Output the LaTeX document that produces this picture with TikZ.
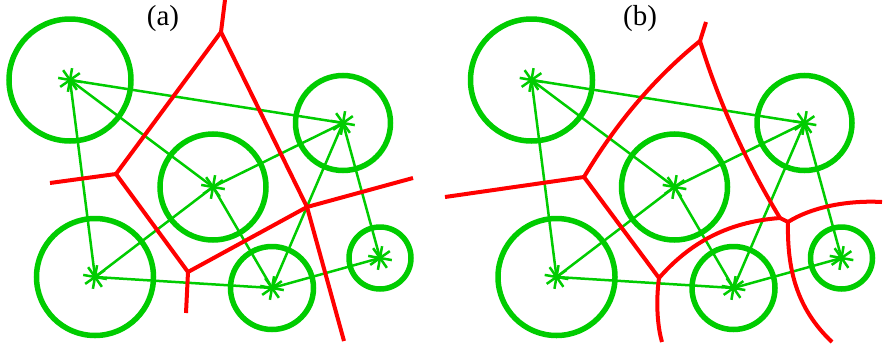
\documentclass[tikz,border=0pt]{standalone}
\usepackage{fontspec}
\setmainfont{Liberation Serif}
\usepackage{tikz}
\usetikzlibrary{positioning}

\definecolor{sitegreen}{RGB}{0,204,0}
\definecolor{vorred}{RGB}{255,0,0}

\tikzset{
    site/.style={circle, draw=sitegreen, line width=5.5pt, minimum size=#1, inner sep=0pt},
    dlink/.style={sitegreen, line width=2.5pt},
    vor/.style={vorred, line width=4pt, line join=round},
    panel/.style={font=\fontsize{29}{34}\selectfont, anchor=base, inner sep=0pt},
    asterisk/.pic={\foreach \a in {10,55,100,145} \draw[dlink] (\a:12) -- (\a+180:12);},
}

% six weighted sites and their triangulation, #1 = name prefix
\newcommand\sitegraph[1]{%
    \node[site=122] (#1A) at (70,80) {};
    \node[site=106] (#1B) at (213,187) {};
    \node[site=95]  (#1C) at (343,123) {};
    \node[site=117] (#1D) at (95,277) {};
    \node[site=83]  (#1E) at (272,288) {};
    \node[site=62]  (#1F) at (380,258) {};
    \foreach \s in {A,B,C,D,E,F} \pic at (#1\s) {asterisk};
    \foreach \u/\v in {A/B,A/C,A/D,B/C,B/D,B/E,C/E,C/F,D/E,E/F}
        \draw[dlink] (#1\u.center) -- (#1\v.center);
}

\begin{document}
\begin{tikzpicture}[x=1pt, y=-1pt]
\useasboundingbox (0,0) rectangle (883,351);
% Panel labels
\node[panel] (la) at (163,25) {(a)};
\node[panel] (lb) at (640,25) {(b)};
% Sites
\sitegraph{a}
\begin{scope}[xshift=461.5pt]
\sitegraph{b}
\end{scope}
% (a) power diagram
\coordinate (aV1) at (221,32);
\coordinate (aV2) at (116,174);
\coordinate (aV3) at (188,272);
\coordinate (aV4) at (307,207);
\coordinate (aN) at (225,0);
\coordinate (aW) at (50,183);
\coordinate (aS) at (186,313);
\coordinate (aE) at (413,178);
\coordinate (aSE) at (344,341);
\draw[vor] (aN) -- (aV1) -- (aV2) -- (aW);
\draw[vor] (aV2) -- (aV3) -- (aS);
\draw[vor] (aV3) -- (aV4) -- (aE);
\draw[vor] (aV1) -- (aV4) -- (aSE);
% (b) weighted Voronoi diagram
\coordinate (bV1) at (700,41);
\coordinate (bV2) at (584,177);
\coordinate (bV3) at (659,278);
\coordinate (bV4) at (780,218);
\coordinate (bV5) at (788,222);
\coordinate (bN) at (706,22);
\coordinate (bW) at (445,197);
\coordinate (bS) at (662,342);
\coordinate (bE) at (882,202);
\coordinate (bSE) at (832,342);
\draw[vor] (bN) -- (bV1) .. controls (653,79) and (615,125) .. (bV2) -- (bW);
\draw[vor] (bV2) -- (bV3) .. controls (656,300) and (657,325) .. (bS);
\draw[vor] (bV3) .. controls (688,245) and (725,222) .. (bV4) -- (bV5);
\draw[vor] (bV1) .. controls (719,103) and (746,162) .. (bV4);
\draw[vor] (bV5) .. controls (810,208) and (845,200) .. (bE);
\draw[vor] (bV5) .. controls (787,268) and (796,308) .. (bSE);
\end{tikzpicture}
\end{document}
